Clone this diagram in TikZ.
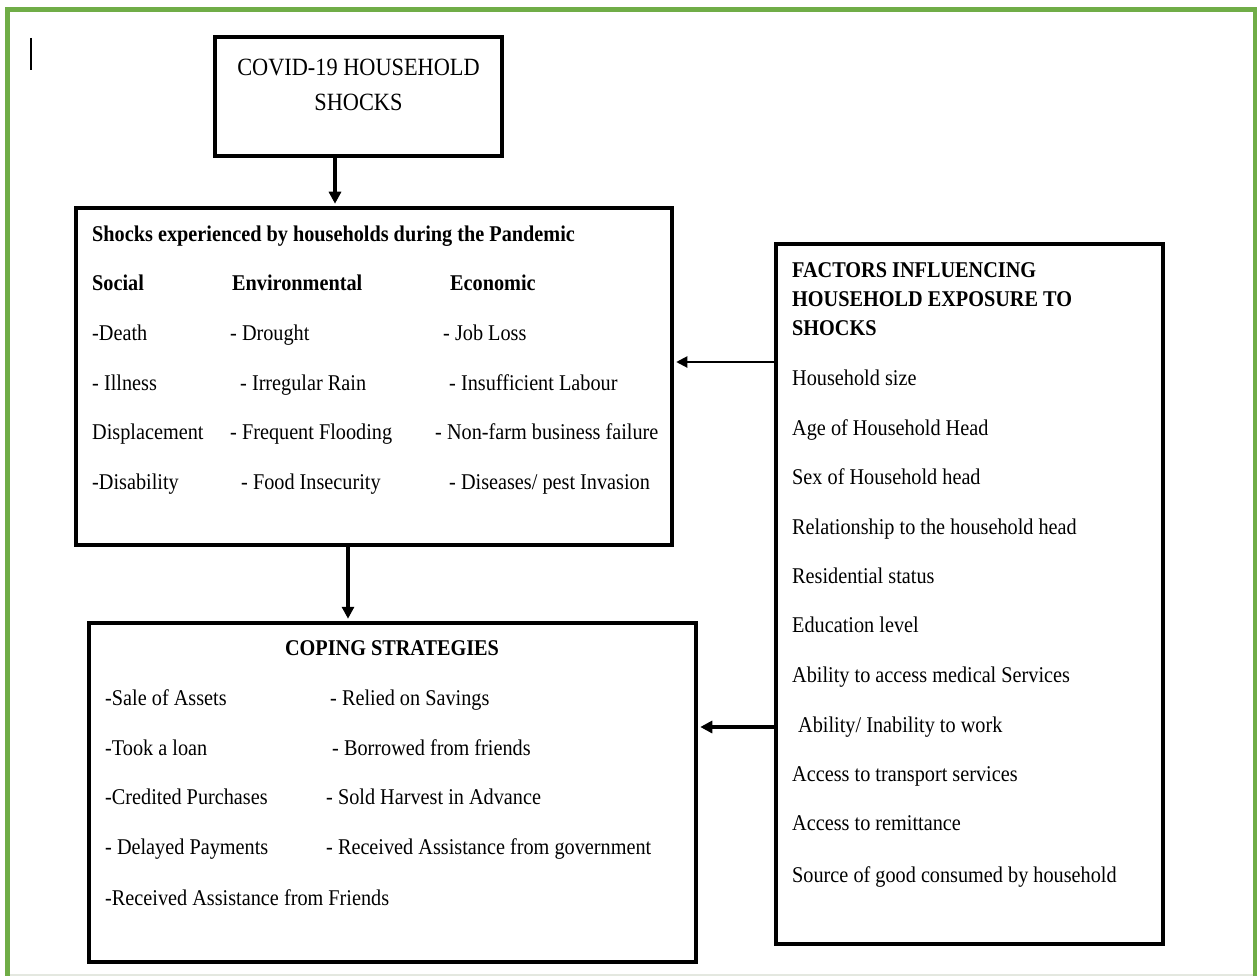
\documentclass[tikz,border=0pt]{standalone}
\usepackage{fontspec}
\setmainfont{Liberation Serif}[FakeStretch=0.9]
\usetikzlibrary{arrows.meta}
\definecolor{frameGreen}{HTML}{70AD47}
\definecolor{edgeGray}{HTML}{E4E8E0}
\begin{document}
\begin{tikzpicture}[x=1pt,y=-1pt,
  font=\fontsize{22.5}{27}\selectfont,
  box/.style={draw=black, line width=4.5pt, inner sep=0pt, rectangle},
  txt/.style={inner sep=0pt, anchor=base west},
  ttl/.style={txt, font=\fontsize{22.5}{27}\selectfont\bfseries},
  ctr/.style={inner sep=0pt, anchor=base},
  arr/.style={-{Triangle[length=12pt,width=12pt]}, line width=4pt},
  thinarr/.style={-{Triangle[length=11pt,width=11pt]}, line width=2pt}]
\useasboundingbox (0,0) rectangle (1257,976);
\fill[white] (0,0) rectangle (1257,976);
% page frame
\draw[edgeGray, line width=1.5pt] (7,975) -- (1255,975);
\draw[frameGreen, line width=5pt] (7,980) -- (7,10) -- (1255,10) -- (1255,980);
% text cursor
\draw[black, line width=1.3pt] (31,38) -- (31,70);

% boxes
\node[box, minimum width=287pt, minimum height=119pt] (b1) at (358.5,96.5) {};
\node[box, minimum width=596pt, minimum height=337pt] (b2) at (374,376.5) {};
\node[box, minimum width=607pt, minimum height=339pt] (b3) at (392.5,792.5) {};
\node[box, minimum width=387pt, minimum height=700pt] (b4) at (969.5,594) {};

% box 1 text
\node[ctr, font=\fontsize{24.8}{29}\selectfont] (t1a) at (358.5,75.5) {COVID-19 HOUSEHOLD};
\node[ctr, font=\fontsize{24.8}{29}\selectfont] (t1b) at (358.5,110.5) {SHOCKS};

% box 2 text
\node[ttl] (t2) at (92,242) {Shocks experienced by households during the Pandemic};
\node[ttl] (h1) at (92,290) {Social};
\node[ttl] (h2) at (232,290) {Environmental};
\node[ttl] (h3) at (450,290) {Economic};
\node[txt] (s1) at (92,340) {-Death};
\node[txt] (s2) at (92,390) {- Illness};
\node[txt] (s3) at (92,439) {Displacement};
\node[txt] (s4) at (92,489) {-Disability};
\node[txt] (e1) at (230,340) {- Drought};
\node[txt] (e2) at (240,390) {- Irregular Rain};
\node[txt] (e3) at (230,439) {- Frequent Flooding};
\node[txt] (e4) at (241,489) {- Food Insecurity};
\node[txt] (c1) at (443,340) {- Job Loss};
\node[txt] (c2) at (449,390) {- Insufficient Labour};
\node[txt] (c3) at (435,439) {- Non-farm business failure};
\node[txt] (c4) at (449,489) {- Diseases/ pest Invasion};

% box 3 text
\node[ctr, font=\fontsize{22.5}{27}\selectfont\bfseries] (t3) at (392,655.5) {COPING STRATEGIES};
\node[txt] (p1) at (105,705) {-Sale of Assets};
\node[txt] (p2) at (105,755) {-Took a loan};
\node[txt] (p3) at (105,804) {-Credited Purchases};
\node[txt] (p4) at (105,854) {- Delayed Payments};
\node[txt] (p5) at (105,905) {-Received Assistance from Friends};
\node[txt] (q1) at (330,705) {- Relied on Savings};
\node[txt] (q2) at (332,755) {- Borrowed from friends};
\node[txt] (q3) at (326,804) {- Sold Harvest in Advance};
\node[txt] (q4) at (326,854) {- Received Assistance from government};

% box 4 text
\node[ttl] (f1) at (792,277.5) {FACTORS INFLUENCING};
\node[ttl] (f2) at (792,306.5) {HOUSEHOLD EXPOSURE TO};
\node[ttl] (f3) at (792,335.5) {SHOCKS};
\node[txt] (g1) at (792,385) {Household size};
\node[txt] (g2) at (792,435) {Age of Household Head};
\node[txt] (g3) at (792,484) {Sex of Household head};
\node[txt] (g4) at (792,534) {Relationship to the household head};
\node[txt] (g5) at (792,583) {Residential status};
\node[txt] (g6) at (792,632) {Education level};
\node[txt] (g7) at (792,682) {Ability to access medical Services};
\node[txt] (g8) at (798,732) {Ability/ Inability to work};
\node[txt] (g9) at (792,781) {Access to transport services};
\node[txt] (g10) at (792,830) {Access to remittance};
\node[txt] (g11) at (792,882) {Source of good consumed by household};

% connectors
\coordinate (x1) at (335,0);
\coordinate (x2) at (348,0);
\coordinate (y1) at (0,362);
\coordinate (y2) at (0,727);
\draw[arr] (b1.south -| x1) -- ([yshift=2pt]b2.north -| x1);
\draw[arr] (b2.south -| x2) -- ([yshift=2pt]b3.north -| x2);
\draw[thinarr] (b4.west |- y1) -- ([xshift=2pt]b2.east |- y1);
\draw[arr] (b4.west |- y2) -- ([xshift=2pt]b3.east |- y2);
\end{tikzpicture}
\end{document}
